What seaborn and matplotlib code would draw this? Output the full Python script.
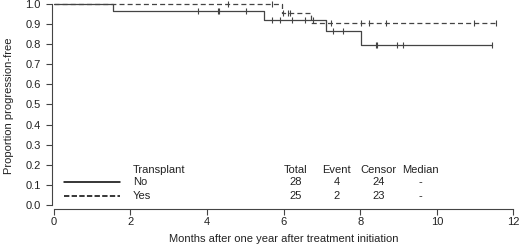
import numpy as np
import pandas as pd
import matplotlib
matplotlib.use("Agg")
import matplotlib.pyplot as plt
import seaborn as sns

# step curves (months, proportion progression-free)
no_times = [0, 1.55, 5.48, 7.10, 8.01, 11.45]
no_surv = [1.0, 0.964, 0.921, 0.868, 0.795, 0.795]
no_censor = [3.76, 4.28, 4.31, 5.01, 5.69, 5.92, 6.21, 6.55, 6.76, 7.30, 7.54,
             8.42, 8.45, 8.95, 9.13, 11.45]

yes_times = [0, 5.95, 6.73, 11.55]
yes_surv = [1.0, 0.957, 0.906, 0.906]
yes_censor = [4.54, 5.69, 5.98, 6.11, 6.18, 7.12, 7.25, 8.01, 8.24, 8.68,
              10.98, 11.55]

groups = ["No", "Yes"]
totals = ["28", "25"]
events = ["4", "2"]
censors = ["24", "23"]
medians = ["-", "-"]


def censor_points(times, surv, cens):
    idx = np.searchsorted(times, cens, side="right") - 1
    return pd.DataFrame({"t": cens, "s": np.array(surv)[idx]})


sns.set_style("ticks")
plt.rcParams["font.family"] = ["Liberation Sans", "DejaVu Sans"]

fig = plt.figure(figsize=(5.2, 2.47), dpi=100)
ax = fig.add_axes([52 / 520, 1 - 209 / 247, 463 / 520, 206 / 247])

col = "#444444"
curves = [(no_times, no_surv, no_censor, "-"), (yes_times, yes_surv, yes_censor, (0, (4, 2.5)))]
for times, surv, cens, ls in curves:
    df = pd.DataFrame({"t": times, "s": surv})
    sns.lineplot(data=df, x="t", y="s", ax=ax, color=col, lw=0.9, linestyle=ls,
                 drawstyle="steps-post", clip_on=False)
    cp = censor_points(times, surv, cens)
    sns.scatterplot(data=cp, x="t", y="s", ax=ax, marker="|", color=col, s=22,
                    linewidth=0.8, clip_on=False)

ax.set_xlim(-0.04, 12.04)
ax.set_ylim(-0.02, 1.005)
ax.set_xticks(range(0, 13, 2))
ax.set_yticks(np.round(np.arange(0, 1.01, 0.1), 1))
ax.set_yticklabels([f"{v:.1f}" for v in np.arange(0, 1.01, 0.1)])
ax.spines["left"].set_bounds(0, 1)
ax.spines["bottom"].set_bounds(0, 12)
for s in ["top", "right"]:
    ax.spines[s].set_visible(False)
for s in ["left", "bottom"]:
    ax.spines[s].set_color("#444444")
    ax.spines[s].set_linewidth(0.8)
ax.tick_params(length=4, width=0.8, color="#444444", labelsize=8,
               labelcolor="#222222")
ax.tick_params(axis="x", pad=2)
ax.tick_params(axis="y", pad=4)
ax.set_xlabel("Months after one year after treatment initiation", fontsize=8,
              color="#222222", labelpad=5)
ax.set_ylabel("Proportion progression-free", fontsize=8, color="#222222", labelpad=8)

# legend drawn as a small table
ax.plot([0.27, 1.73], [0.115, 0.115], color="black", lw=1.1, linestyle="-")
ax.plot([0.27, 1.73], [0.045, 0.045], color="black", lw=1.1, linestyle=(0, (3.5, 1.5)))
fs = 8
ax.text(2.07, 0.175, "Transplant", fontsize=fs, va="center", color="#222222")
heads = ["Total", "Event", "Censor", "Median"]
xs = [6.32, 7.39, 8.48, 9.57]
for h, x in zip(heads, xs):
    ax.text(x, 0.175, h, fontsize=fs, va="center", ha="center", color="#222222")
for i, (g, yv) in enumerate(zip(groups, [0.115, 0.045])):
    ax.text(2.07, yv, g, fontsize=fs, va="center", color="#222222")
    row = [totals[i], events[i], censors[i], medians[i]]
    for v, x in zip(row, xs):
        ax.text(x, yv, v, fontsize=fs, va="center", ha="center", color="#222222")

fig.savefig("out.png", dpi=100)
